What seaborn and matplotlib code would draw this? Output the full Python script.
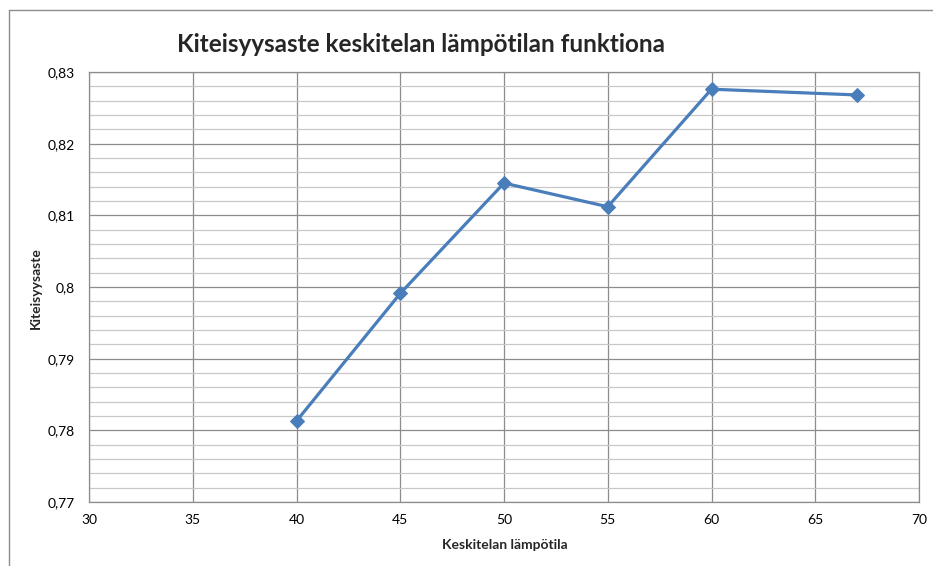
import matplotlib
matplotlib.use("Agg")
import matplotlib.pyplot as plt
from matplotlib.ticker import MultipleLocator, FuncFormatter
from matplotlib.lines import Line2D
import seaborn as sns
import pandas as pd

# Measured crystallinity vs. mid-section temperature
temperatures = [40, 45, 50, 55, 60, 67]
crystallinity = [0.7813, 0.7991, 0.8145, 0.8112, 0.8276, 0.8268]

title = "Kiteisyysaste keskitelan lämpötilan funktiona"
x_label = "Keskitelan lämpötila"
y_label = "Kiteisyysaste"

sns.set_theme(style="white")
plt.rcParams["font.family"] = ["Lato", "DejaVu Sans"]

df = pd.DataFrame({"T": temperatures, "X": crystallinity})

fig = plt.figure(figsize=(9.33, 5.66), dpi=100)
ax = fig.add_axes([89 / 933, 1 - 502 / 566, (919 - 89) / 933, (502 - 72) / 566])

sns.lineplot(data=df, x="T", y="X", ax=ax, color="#4A7EBB", linewidth=2.3,
             marker="D", markersize=7, markeredgecolor="#4A7EBB", zorder=5)

ax.set_xlim(30, 70)
ax.set_ylim(0.77, 0.83)
ax.xaxis.set_major_locator(MultipleLocator(5))
ax.yaxis.set_major_locator(MultipleLocator(0.01))
ax.yaxis.set_minor_locator(MultipleLocator(0.002))
ax.yaxis.set_major_formatter(
    FuncFormatter(lambda v, _: f"{round(v, 3):g}".replace(".", ",")))
ax.xaxis.set_major_formatter(FuncFormatter(lambda v, _: f"{v:.0f}"))

ax.grid(which="major", axis="both", color="#8C8C8C", linewidth=0.9)
ax.grid(which="minor", axis="y", color="#C8C8C8", linewidth=0.9)
ax.set_axisbelow(True)
for side in ax.spines.values():
    side.set_color("#8C8C8C")
    side.set_linewidth(0.9)

ax.tick_params(axis="both", which="both", length=0, labelsize=10, colors="black", pad=9)
ax.tick_params(axis="y", pad=10)

ax.set_xlabel("")
ax.set_ylabel("")
fig.text(505 / 933, 1 - 545 / 566, x_label, ha="center", va="center",
         fontsize=10, fontweight="bold")
fig.text(36 / 933, 1 - 288 / 566, y_label, ha="center", va="center",
         rotation=90, fontsize=10, fontweight="bold")

fig.text(421 / 933, 1 - 45 / 566, title, ha="center", va="center",
         fontsize=17.5, fontweight="bold")

# Chart area frame (left and top edges)
frame_color = "#8C8C8C"
fig.add_artist(Line2D([9 / 933, 9 / 933], [0, 1 - 10 / 566], transform=fig.transFigure,
                      color=frame_color, linewidth=1.0))
fig.add_artist(Line2D([9 / 933, 1], [1 - 10 / 566, 1 - 10 / 566], transform=fig.transFigure,
                      color=frame_color, linewidth=1.0))

fig.savefig("out.png", dpi=100)
